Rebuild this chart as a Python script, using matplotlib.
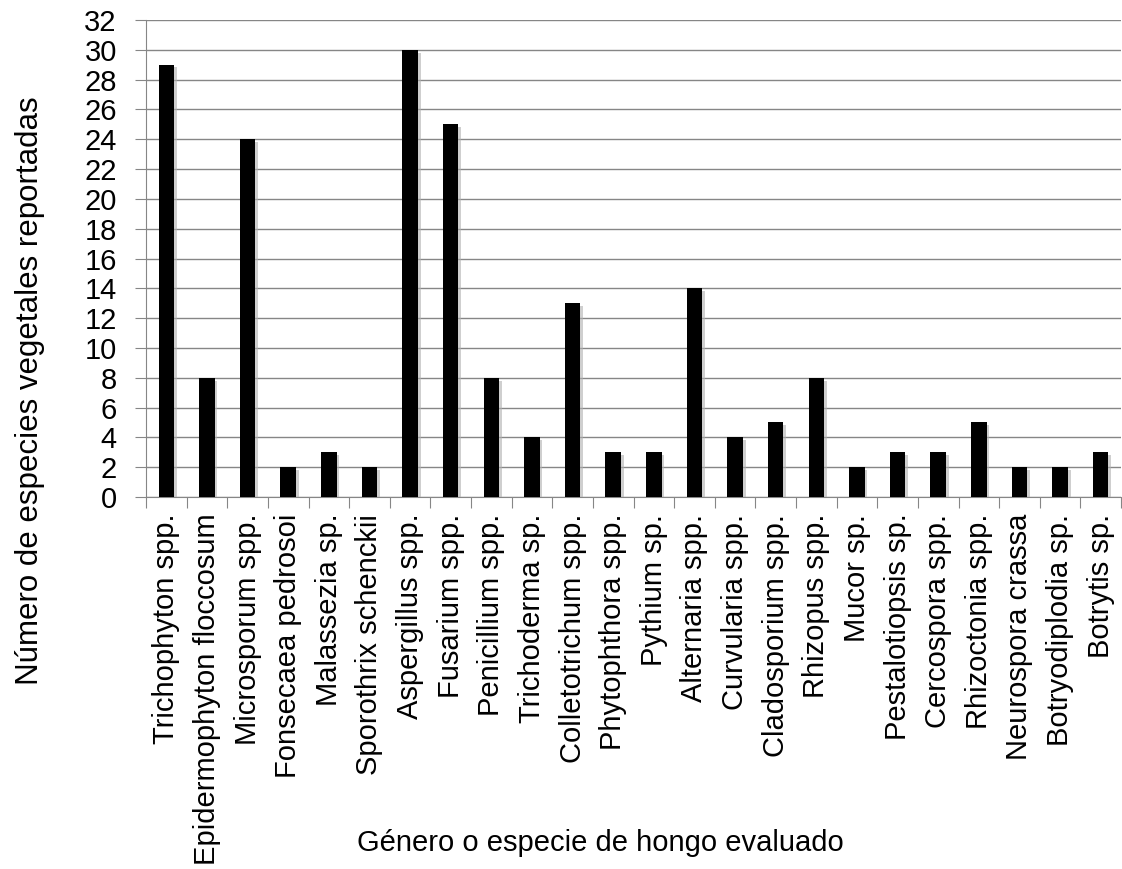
import matplotlib.pyplot as plt
import matplotlib.patheffects as pe
import numpy as np

plt.rcParams['font.family'] = ['Liberation Sans', 'DejaVu Sans']

generos = ['Trichophyton spp.', 'Epidermophyton floccosum', 'Microsporum spp.',
           'Fonsecaea pedrosoi', 'Malassezia sp.', 'Sporothrix schenckii',
           'Aspergillus spp.', 'Fusarium spp.', 'Penicillium spp.',
           'Trichoderma sp.', 'Colletotrichum spp.', 'Phytophthora spp.',
           'Pythium sp.', 'Alternaria spp.', 'Curvularia spp.',
           'Cladosporium spp.', 'Rhizopus spp.', 'Mucor sp.',
           'Pestalotiopsis sp.', 'Cercospora spp.', 'Rhizoctonia spp.',
           'Neurospora crassa', 'Botryodiplodia sp.', 'Botrytis sp.']
especies = [29, 8, 24, 2, 3, 2, 30, 25, 8, 4, 13, 3, 3, 14, 4, 5, 8, 2, 3, 3,
            5, 2, 2, 3]

fig = plt.figure(figsize=(11.22, 8.69), dpi=100)
ax = fig.add_axes([146 / 1122, 1 - 497 / 869, 975 / 1122, 477 / 869])

x = np.arange(len(generos))
bars = ax.bar(x, especies, width=0.38, color='black', zorder=3)
for b in bars:
    b.set_path_effects([pe.SimplePatchShadow(offset=(2, -2), shadow_rgbFace='#b0b0b0', alpha=0.6),
                        pe.Normal()])

ax.set_xlim(-0.5, len(generos) - 0.5)
ax.set_ylim(0, 32)
ax.set_yticks(np.arange(0, 33, 2))
ax.set_xticks(np.arange(len(generos) + 1) - 0.5, minor=False)
ax.set_xticklabels([])
ax.set_xticks(x, minor=True)
ax.set_xticklabels(generos, minor=True, rotation=90, fontsize=21)
ax.tick_params(axis='x', which='major', length=8, color='#868686')
ax.tick_params(axis='x', which='minor', length=0, pad=12)
ax.tick_params(axis='y', length=8, color='#868686', labelsize=21, pad=13)

ax.grid(axis='y', color='#868686', linewidth=1, zorder=0)
for side in ['top', 'right']:
    ax.spines[side].set_visible(False)
ax.spines['left'].set_color('#868686')
ax.spines['bottom'].set_color('#868686')

fig.text(0.027, 0.55, 'Número de especies vegetales reportadas', fontsize=22.5,
         rotation=90, ha='center', va='center')
fig.text(0.535, 0.03, 'Género o especie de hongo evaluado', fontsize=21,
         ha='center', va='center')

fig.savefig('out.png', dpi=100)
